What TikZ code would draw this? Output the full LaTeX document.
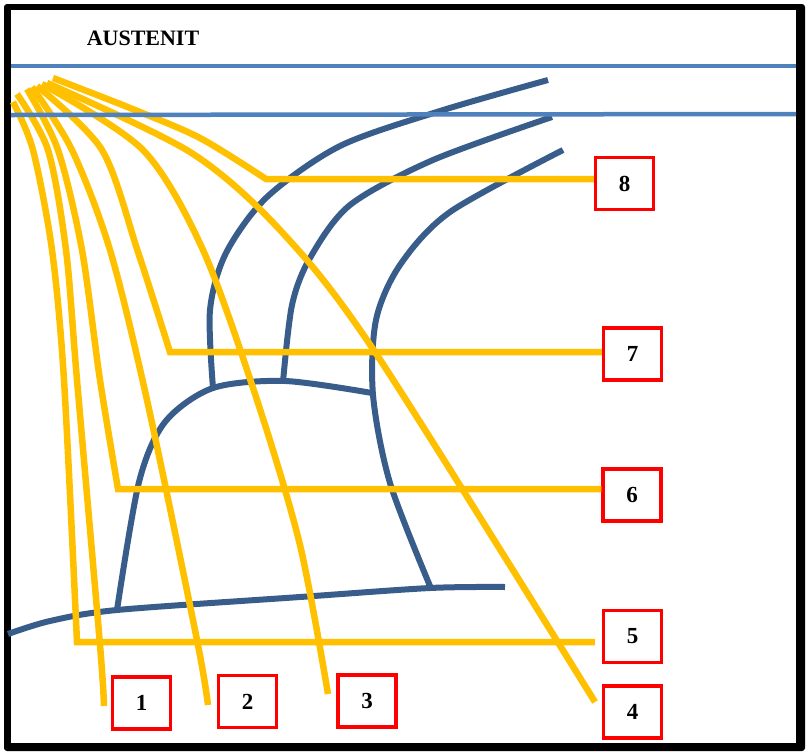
\documentclass[tikz,border=0pt]{standalone}
\usepackage{fontspec}
\setmainfont{Liberation Serif}
\usetikzlibrary{positioning}
\definecolor{gold}{HTML}{FFC000}
\definecolor{steel}{HTML}{385D8A}
\definecolor{accent}{HTML}{4F81BD}
\definecolor{boxred}{HTML}{FF0000}

\begin{document}
\begin{tikzpicture}[x=1pt, y=-1pt,
  every node/.style={font=\bfseries\fontsize{23}{23}\selectfont},
  nrbox/.style={draw=boxred, line width=3.5pt, minimum width=58pt, minimum height=52pt, inner sep=0pt},
  pointer/.style={draw=gold, line width=6.5pt},
  grain/.style={draw=steel, line width=6pt},
  boundary/.style={draw=accent, line width=4.5pt}]
  \useasboundingbox (0,0) rectangle (807,756);

  % Frame with shadow
  \fill[black, rounded corners=3pt] (4,4) rectangle (805,751);
  \fill[white] (11,10) rectangle (796,743);

  \node (title) at (143,38) {\fontsize{22}{22}\selectfont AUSTENIT};

  % Numbered boxes
  \node[nrbox] (b8) at (624.5,183.5) {8};
  \node[nrbox] (b7) at (632.5,354) {7};
  \node[nrbox] (b6) at (632,495) {6};
  \node[nrbox] (b5) at (632.5,636.5) {5};
  \node[nrbox] (b4) at (632.5,712) {4};
  \node[nrbox] (b1) at (141.5,703) {1};
  \node[nrbox] (b2) at (247.5,701.5) {2};
  \node[nrbox] (b3) at (367,701) {3};

  % Grain boundaries (dark blue)
  \draw[grain] plot[smooth] coordinates {(8,634) (50,621) (117,610) (300,597) (430,588) (505,587)};
  \draw[grain] plot[smooth] coordinates {(117,610) (139,482) (165,422) (213,388) (285,381) (372,393)};
  \draw[grain] plot[smooth] coordinates {(213,388) (210,310) (226,253) (267,197) (340,146) (440,111) (548,80)};
  \draw[grain] plot[smooth] coordinates {(283,382) (292,305) (310,258) (350,205) (433,160) (552,117)};
  \draw[grain] plot[smooth] coordinates {(430,586) (390,483) (373,395) (376,320) (400,265) (450,212) (563,150)};

  % Start points of the pointers
  \coordinate (s5) at (13,102);
  \coordinate (s1) at (17,94);
  \coordinate (s6) at (27,89);
  \coordinate (s2) at (32,87);
  \coordinate (s7) at (37,86);
  \coordinate (s3) at (42,84);
  \coordinate (s4) at (47,83);
  \coordinate (s8) at (53,78);
  % free ends next to the lower boxes
  \coordinate (e1) at (104,706);
  \coordinate (e2) at (208,705);
  \coordinate (e3) at (328,694);
  \coordinate (e4) at (595,702);
  % corners of the bent pointers
  \coordinate (k5) at (77,642);
  \coordinate (k6) at (118,489);
  \coordinate (k7) at (170,352);
  \coordinate (k8) at (266,179);

  % Pointers (yellow)
  \draw[pointer] plot[smooth] coordinates {(s1) (48,150) (66,250) (77,380) (100,645) (e1)};
  \draw[pointer] plot[smooth] coordinates {(s2) (72,150) (110,250) (147,400) (197,640) (e2)};
  \draw[pointer] plot[smooth] coordinates {(s3) (143,150) (203,250) (257,400) (300,545) (e3)};
  \draw[pointer] plot[smooth] coordinates {(s4) (190,152) (280,230) (375,352) (e4)};
  \draw[pointer, shorten >=7pt] plot[smooth] coordinates {(s5) (33,150) (52,250) (64,380) (k5)} -- (k5 -| b5.west);
  \draw[pointer] plot[smooth] coordinates {(s6) (58,150) (82,250) (100,380) (k6)} -- (k6 -| b6.west);
  \draw[pointer] plot[smooth] coordinates {(s7) (102,150) (138,252) (k7)} -- (k7 -| b7.west);
  \draw[pointer] plot[smooth] coordinates {(s8) (130,108) (200,138) (k8)} -- (k8 -| b8.west);

  % Austenite boundaries
  \draw[boundary] (11,66) -- (796,66);
  \draw[boundary] (11,115) -- (796,114);
\end{tikzpicture}
\end{document}
